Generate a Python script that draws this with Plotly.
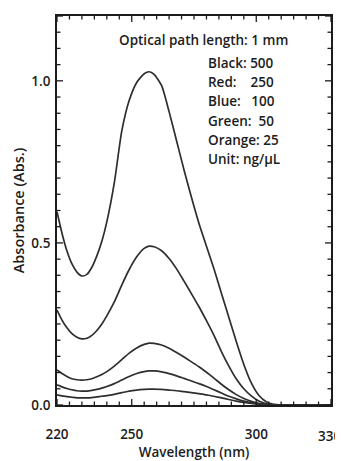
import plotly.graph_objects as go

wavelength = [220, 222, 224, 226, 228, 230, 232, 234, 236, 238, 240,
              243, 246, 249, 252, 255, 257, 259,
              262, 265, 268, 271, 274, 277, 280, 283, 286, 289, 292, 295, 298, 301, 304, 307, 310,
              320, 330]

black_500 = [0.596, 0.53, 0.475, 0.435, 0.41, 0.398, 0.403, 0.425, 0.46, 0.505, 0.565,
             0.685, 0.845, 0.94, 0.995, 1.022, 1.028, 1.02,
             0.985, 0.905, 0.815, 0.725, 0.64, 0.56, 0.49, 0.42, 0.345, 0.27, 0.195, 0.125, 0.068, 0.03, 0.01, 0.002, 0.0,
             0.0, 0.0]
red_250 = [0.293, 0.262, 0.238, 0.22, 0.209, 0.204, 0.206, 0.215, 0.23, 0.25, 0.275,
           0.318, 0.37, 0.418, 0.457, 0.483, 0.49, 0.488,
           0.476, 0.452, 0.42, 0.382, 0.343, 0.303, 0.26, 0.215, 0.165, 0.12, 0.08, 0.05, 0.028, 0.012, 0.004, 0.0, 0.0,
           0.0, 0.0]
blue_100 = [0.108, 0.097, 0.088, 0.081, 0.078, 0.077, 0.078, 0.081, 0.087, 0.094, 0.103,
            0.12, 0.14, 0.16, 0.176, 0.187, 0.191, 0.19,
            0.185, 0.175, 0.162, 0.148, 0.133, 0.118, 0.101, 0.083, 0.064, 0.047, 0.032, 0.02, 0.011, 0.005, 0.001, 0.0, 0.0,
            0.0, 0.0]
green_50 = [0.062, 0.056, 0.051, 0.047, 0.044, 0.043, 0.043, 0.045, 0.048, 0.052, 0.057,
            0.066, 0.077, 0.088, 0.097, 0.103, 0.105, 0.105,
            0.102, 0.097, 0.09, 0.082, 0.074, 0.066, 0.057, 0.047, 0.037, 0.027, 0.019, 0.012, 0.007, 0.003, 0.001, 0.0, 0.0,
            0.0, 0.0]
orange_25 = [0.031, 0.028, 0.026, 0.024, 0.022, 0.022, 0.022, 0.023, 0.025, 0.027, 0.029,
             0.033, 0.038, 0.043, 0.046, 0.048, 0.049, 0.049,
             0.048, 0.046, 0.044, 0.041, 0.038, 0.035, 0.031, 0.027, 0.022, 0.017, 0.012, 0.008, 0.005, 0.002, 0.001, 0.0, 0.0,
             0.0, 0.0]

series = [("Black", black_500), ("Red", red_250), ("Blue", blue_100), ("Green", green_50), ("Orange", orange_25)]

x_range = [220, 330]
y_range = [0, 1.2]
x_tickvals = [220, 250, 300, 330]
x_ticktext = ["220", "250", "300", ""]
last_x_label = "330"
y_tickvals = [0.0, 0.5, 1.0, 1.2]
y_ticktext = ["0.0", "0.5", "1.0", "1.2"]
x_minor_step = 5
y_minor_step = 0.05

legend_lines = ["Black: 500", "Red:\u00a0\u00a0\u00a0 250", "Blue:\u00a0\u00a0 100",
                "Green:\u00a0 50", "Orange: 25", "Unit: ng/\u00b5L"]

FONT = "Open Sans"
INK = "#1c1c1c"
FS = 13.5
MAJOR_LEN, MINOR_LEN = 6, 3.5

fig = go.Figure()
for name, ys in series:
    fig.add_trace(go.Scatter(x=wavelength, y=ys, mode="lines", name=name,
                             line=dict(color="#2e2e2e", width=1.7, shape="spline", smoothing=0.6),
                             showlegend=False, hoverinfo="skip"))

# page has an 8px body margin: figure drawn at (8,8)
fig.update_layout(
    width=335, height=453,
    margin=dict(l=49, r=12, t=8, b=56),
    paper_bgcolor="white", plot_bgcolor="white",
    font=dict(family=FONT, size=FS, color=INK),
    showlegend=False,
)

fig.update_layout(
    xaxis=dict(
        range=x_range, tickmode="array", tickvals=x_tickvals, ticktext=x_ticktext,
        showgrid=False, zeroline=False, showline=True, linecolor=INK, linewidth=1.6, mirror=True,
        ticks="", ticklabelstandoff=16,
        tickfont=dict(size=FS, family=FONT, color=INK, weight=600),
        title=dict(text="Wavelength (nm)", standoff=6, font=dict(size=FS, family=FONT, color=INK, weight=600)),
        automargin=False,
    ),
    yaxis=dict(
        range=y_range, tickmode="array", tickvals=y_tickvals, ticktext=y_ticktext,
        showgrid=False, zeroline=False, showline=True, linecolor=INK, linewidth=1.6, mirror=True,
        ticks="", ticklabelstandoff=2,
        tickfont=dict(size=FS, family=FONT, color=INK, weight=600),
        title=dict(text="Absorbance (Abs.)", standoff=3, font=dict(size=14.5, family=FONT, color=INK, weight=600)),
        automargin=False,
    ),
)

# inside tick marks on all four sides (major at labelled values, minor in between)
n_x = int(round((x_range[1] - x_range[0]) / x_minor_step))
for k in range(n_x + 1):
    v = x_range[0] + k * x_minor_step
    ln = MAJOR_LEN if v in x_tickvals else MINOR_LEN
    for anchor, sign in ((0, 1), (1, -1)):
        fig.add_shape(type="line", xref="x", yref="paper", ysizemode="pixel", yanchor=anchor,
                      x0=v, x1=v, y0=0, y1=sign * ln, line=dict(color=INK, width=1.3))
n_y = int(round((y_range[1] - y_range[0]) / y_minor_step))
for k in range(n_y + 1):
    v = round(y_range[0] + k * y_minor_step, 4)
    ln = MAJOR_LEN if any(abs(v - t) < 1e-6 for t in y_tickvals) else MINOR_LEN
    for anchor, sign in ((0, 1), (1, -1)):
        fig.add_shape(type="line", xref="paper", yref="y", xsizemode="pixel", xanchor=anchor,
                      y0=v, y1=v, x0=0, x1=sign * ln, line=dict(color=INK, width=1.3))

PLOT_W, PLOT_H = 274, 389

# the last x tick label sits against the right edge of the picture
fig.add_annotation(x=330, xref="x", y=0, yref="paper", xanchor="right", yanchor="top",
                   xshift=12, yshift=-20, text=last_x_label, showarrow=False,
                   font=dict(size=FS, family=FONT, color=INK, weight=600))

fig.add_annotation(x=(203 - 57) / PLOT_W, y=1 - (40 - 16) / PLOT_H, xref="paper", yref="paper",
                   yanchor="middle", xanchor="center",
                   text="Optical path length: 1 mm", showarrow=False,
                   font=dict(size=FS, family=FONT, color=INK, weight=600))

for i, lab in enumerate(legend_lines):
    ypix = 63 + i * 19.2
    fig.add_annotation(x=(206 - 57) / PLOT_W, y=1 - (ypix - 16) / PLOT_H, xref="paper", yref="paper",
                       xanchor="left", yanchor="middle",
                       text=lab, showarrow=False, font=dict(size=FS, family=FONT, color=INK, weight=600))

fig.write_html("out.html")
